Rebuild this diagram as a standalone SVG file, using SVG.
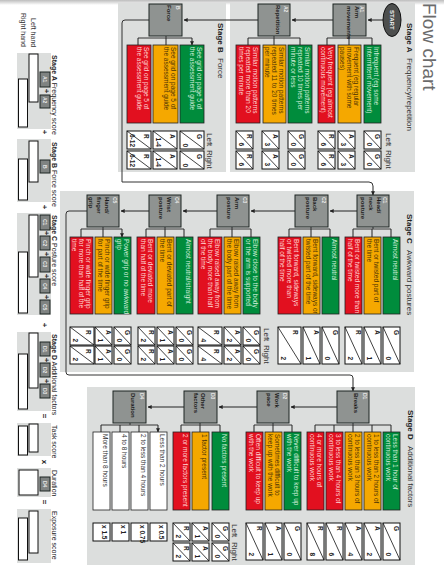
<svg xmlns="http://www.w3.org/2000/svg" width="444" height="565" viewBox="0 0 444 565">
<style>
text{font-family:"Liberation Sans",Arial,sans-serif}
.p{fill:#dcdedd}
.b{fill:#8f9391;stroke:#1d2423;stroke-width:1}
.sm{fill:#7f8382;stroke:#1d2423;stroke-width:1}
.R{fill:#e2101f;stroke:#222;stroke-width:.8}
.A{fill:#f5a800;stroke:#222;stroke-width:.8}
.G{fill:#008c3c;stroke:#222;stroke-width:.8}
.W{fill:#fff;stroke:#222;stroke-width:.8}
.o{fill:#fff;stroke:#111;stroke-width:1}
.d{stroke:#111;stroke-width:.8;fill:none}
.c{fill:none;stroke:#222;stroke-width:1;marker-end:url(#ah)}
.n{fill:none;stroke:#333;stroke-width:1}
.tr{font-size:6.5px;fill:#ffd6d6}
.ta{font-size:6.5px;fill:#4a3205}
.tg{font-size:6.5px;fill:#d5efdc}
.tw{font-size:6.5px;fill:#333}
.lb{font-size:6px;font-weight:bold;fill:#1c1c1c}
.id{font-size:5px;font-weight:bold;fill:#e8e8e8}
.sc{font-size:6.5px;font-weight:bold;fill:#222}
.end{text-anchor:end}
.st{font-size:8px;fill:#333}
.stb{font-size:8px;font-weight:bold;fill:#222}
.sb{font-size:7px;fill:#222}
.si{font-size:7px;fill:#333}
.big{font-size:19px;fill:#6b6b6b}
.op{font-size:8px;font-weight:bold;fill:#222;text-anchor:middle}
</style>
<defs>
<marker id="ah" viewBox="0 0 6 6" refX="5.5" refY="3" markerWidth="4" markerHeight="4" orient="auto"><path d="M0 0L6 3L0 6z" fill="#222"/></marker>
<linearGradient id="top" x1="0" y1="0" x2="0" y2="1"><stop offset="0" stop-color="#bdbdbd"/><stop offset="1" stop-color="#fff"/></linearGradient>
<g id="s17"><rect class="o" width="17" height="18"/><line class="d" x1="0" y1="0" x2="17" y2="18"/></g>
<g id="s24"><rect class="o" width="24" height="18"/><line class="d" x1="0" y1="0" x2="24" y2="18"/></g>
<g id="t17"><rect class="o" width="17" height="37"/><line class="d" x1="0" y1="0" x2="17" y2="37"/></g>
<g id="t23"><rect class="o" width="23" height="37"/><line class="d" x1="0" y1="0" x2="23" y2="37"/></g>
</defs>
<rect width="444" height="5" fill="url(#top)"/>
<rect class="p" x="230" y="3" width="185" height="169"/>
<rect class="p" x="118" y="3" width="108" height="169"/>
<rect class="p" x="60" y="191" width="354" height="181"/>
<rect class="p" x="87" y="387" width="328" height="178"/>
<text class="big" transform="translate(423,3) rotate(90)">Flow chart</text>

<g id="connectors">
<path class="c" d="M383 20H368"/>
<path class="c" d="M333 20H292"/>
<path class="c" d="M258 20H184"/>
<path class="n" d="M149 20H125Q122 20 122 23V182H369Q373 182 373 186"/>
<path class="c" d="M373 186V195"/>
<path class="c" d="M357 211H330"/>
<path class="c" d="M295 211H251"/>
<path class="c" d="M217 211H183"/>
<path class="c" d="M149 211H121"/>
<path class="n" d="M87 211H69Q66 211 66 214V372Q66 375 69 375H350Q353 375 353 378"/>
<path class="c" d="M353 378V391"/>
<path class="c" d="M337 407H291"/>
<path class="c" d="M257 407H219"/>
<path class="c" d="M184 407H148"/>
<path class="n" d="M327 38H372M349 36V38M248 38H300M274 36V38M138 38H192M166 36V38"/>
<path class="c" d="M327 38V45M349 38V45M372 38V45M248 38V45M274 38V45M300 38V45M138 38V45M166 38V45M192 38V45"/>
<path class="n" d="M353 229H391M373 227V229M289 229H330M311 227V229M210 229H251M232 227V229M146 229H184M165 227V229M81 229H122M103 229V227"/>
<path class="c" d="M353 229V237M372 229V237M391 229V237M289 229V237M311 229V237M330 229V237M210 229V237M232 229V237M251 229V237M146 229V237M165 229V237M184 229V237M81 229V237M103 229V237M122 229V237"/>
<path class="n" d="M315 425H391M353 423V425M254 425H292M273 423V425M181 425H220M200 423V425M101 425H158M130 423V425"/>
<path class="c" d="M315 425V432M334 425V432M353 425V432M372 425V432M391 425V432M254 425V432M273 425V432M292 425V432M181 425V432M200 425V432M220 425V432M101 425V432M120 425V432M139 425V432M158 425V432"/>
</g>

<g id="start"><ellipse cx="392" cy="20" rx="9" ry="16.5" fill="#4d4f4e" stroke="#111"/><text class="lb" style="fill:#f2f2f2" transform="translate(390,10) rotate(90)">START</text></g>

<g id="stage-a">
<text class="stb" transform="translate(407,23) rotate(90)">Stage A</text>
<text class="st" transform="translate(407,58) rotate(90)">Frequency/repetition</text>
<text class="st" transform="translate(386,133) rotate(90)">Left</text>
<text class="st" transform="translate(386,150) rotate(90)">Right</text>
</g>
<g id="node-a1">
<rect class="b" x="333" y="4" width="33" height="32"/>
<text class="id" transform="translate(360,6) rotate(90)">A1</text>
<text class="lb" transform="translate(355,6) rotate(90)"><tspan x="0" y="0">Arm</tspan><tspan x="0" dy="8">movements</tspan></text>
<rect class="G" x="364" y="45" width="17" height="78"/><text class="tg" transform="translate(374,47) rotate(90)"><tspan x="0" y="0">Infrequent (eg some</tspan><tspan x="0" dy="6.8">intermittent movement)</tspan></text>
<rect class="A" x="338" y="45" width="23" height="78"/><text class="ta" transform="translate(354,47) rotate(90)"><tspan x="0" y="0">Frequent (eg regular</tspan><tspan x="0" dy="6.8">movement with some</tspan><tspan x="0" dy="6.8">pauses)</tspan></text>
<rect class="R" x="318" y="45" width="17" height="78"/><text class="tr" transform="translate(328,47) rotate(90)"><tspan x="0" y="0">Very frequent (eg almost</tspan><tspan x="0" dy="6.8">continuous movement)</tspan></text>
<use href="#s17" x="364" y="131"/><use href="#s17" x="364" y="151"/><use href="#s17" x="338" y="131"/><use href="#s17" x="338" y="151"/><use href="#s17" x="318" y="131"/><use href="#s17" x="318" y="151"/>
<text class="sc" transform="translate(375,134) rotate(90)">G</text><text class="sc end" transform="translate(366.5,146) rotate(90)">0</text>
<text class="sc" transform="translate(375,154) rotate(90)">G</text><text class="sc end" transform="translate(366.5,166) rotate(90)">0</text>
<text class="sc" transform="translate(349,134) rotate(90)">A</text><text class="sc end" transform="translate(340.5,146) rotate(90)">3</text>
<text class="sc" transform="translate(349,154) rotate(90)">A</text><text class="sc end" transform="translate(340.5,166) rotate(90)">3</text>
<text class="sc" transform="translate(329,134) rotate(90)">R</text><text class="sc end" transform="translate(320.5,146) rotate(90)">6</text>
<text class="sc" transform="translate(329,154) rotate(90)">R</text><text class="sc end" transform="translate(320.5,166) rotate(90)">6</text>
</g>
<g id="node-a2">
<rect class="b" x="258" y="4" width="32" height="32"/>
<text class="id" transform="translate(284,6) rotate(90)">A2</text>
<text class="lb" transform="translate(276,5) rotate(90)">Repetition</text>
<rect class="G" x="288" y="45" width="24" height="78"/><text class="tg" transform="translate(305,47) rotate(90)"><tspan x="0" y="0">Similar motion patterns</tspan><tspan x="0" dy="6.8">repeated 10 times per</tspan><tspan x="0" dy="6.8">minute or less</tspan></text>
<rect class="A" x="263" y="45" width="23" height="78"/><text class="ta" transform="translate(279,47) rotate(90)"><tspan x="0" y="0">Similar motion patterns</tspan><tspan x="0" dy="6.8">repeated 11 to 20 times</tspan><tspan x="0" dy="6.8">per minute</tspan></text>
<rect class="R" x="236" y="45" width="24" height="78"/><text class="tr" transform="translate(253,47) rotate(90)"><tspan x="0" y="0">Similar motion patterns</tspan><tspan x="0" dy="6.8">repeated more than 20</tspan><tspan x="0" dy="6.8">times per minute</tspan></text>
<use href="#s17" x="288" y="131"/><use href="#s17" x="288" y="151"/><use href="#s17" x="262" y="131"/><use href="#s17" x="262" y="151"/><use href="#s17" x="236" y="131"/><use href="#s17" x="236" y="151"/>
<text class="sc" transform="translate(299,134) rotate(90)">G</text><text class="sc end" transform="translate(290.5,146) rotate(90)">0</text>
<text class="sc" transform="translate(299,154) rotate(90)">G</text><text class="sc end" transform="translate(290.5,166) rotate(90)">0</text>
<text class="sc" transform="translate(273,134) rotate(90)">A</text><text class="sc end" transform="translate(264.5,146) rotate(90)">3</text>
<text class="sc" transform="translate(273,154) rotate(90)">A</text><text class="sc end" transform="translate(264.5,166) rotate(90)">3</text>
<text class="sc" transform="translate(247,134) rotate(90)">R</text><text class="sc end" transform="translate(238.5,146) rotate(90)">6</text>
<text class="sc" transform="translate(247,154) rotate(90)">R</text><text class="sc end" transform="translate(238.5,166) rotate(90)">6</text>
</g>

<g id="node-b">
<text class="stb" transform="translate(218,23) rotate(90)">Stage B</text>
<text class="st" transform="translate(218,58) rotate(90)">Force</text>
<text class="st" transform="translate(207,133) rotate(90)">Left</text>
<text class="st" transform="translate(207,150) rotate(90)">Right</text>
<rect class="b" x="149" y="4" width="33" height="32"/>
<text class="id" transform="translate(176,6) rotate(90)">B</text>
<text class="lb" transform="translate(167,5) rotate(90)">Force</text>
<rect class="G" x="180" y="45" width="24" height="78"/><text class="tg" transform="translate(197,47) rotate(90)"><tspan x="0" y="0">See grid on page 5 of</tspan><tspan x="0" dy="6.8">the assessment guide</tspan></text>
<rect class="A" x="153" y="45" width="25" height="78"/><text class="ta" transform="translate(171,47) rotate(90)"><tspan x="0" y="0">See grid on page 5 of</tspan><tspan x="0" dy="6.8">the assessment guide</tspan></text>
<rect class="R" x="127" y="45" width="24" height="78"/><text class="tr" transform="translate(144,47) rotate(90)"><tspan x="0" y="0">See grid on page 5 of</tspan><tspan x="0" dy="6.8">the assessment guide</tspan></text>
<use href="#s24" x="180" y="131"/><use href="#s24" x="180" y="151"/><use href="#s24" x="153" y="131"/><use href="#s24" x="153" y="151"/><use href="#s24" x="127" y="131"/><use href="#s24" x="127" y="151"/>
<text class="sc" transform="translate(197,134) rotate(90)">G</text><text class="sc end" transform="translate(183,147) rotate(90)">0</text>
<text class="sc" transform="translate(197,154) rotate(90)">G</text><text class="sc end" transform="translate(183,167) rotate(90)">0</text>
<text class="sc" transform="translate(170,134) rotate(90)">A</text><text class="sc end" transform="translate(156,147) rotate(90)">1-4</text>
<text class="sc" transform="translate(170,154) rotate(90)">A</text><text class="sc end" transform="translate(156,167) rotate(90)">1-4</text>
<text class="sc" transform="translate(144,134) rotate(90)">R</text><text class="sc end" transform="translate(130,147) rotate(90)">6-12</text>
<text class="sc" transform="translate(144,154) rotate(90)">R</text><text class="sc end" transform="translate(130,167) rotate(90)">6-12</text>
</g>

<g id="stage-c">
<text class="stb" transform="translate(407,214) rotate(90)">Stage C</text>
<text class="st" transform="translate(407,250) rotate(90)">Awkward postures</text>
<text class="st" transform="translate(264,328) rotate(90)">Left</text>
<text class="st" transform="translate(264,345) rotate(90)">Right</text>
</g>
<g id="node-c1">
<rect class="b" x="357" y="195" width="32" height="32"/>
<text class="id" transform="translate(383,197) rotate(90)">C1</text>
<text class="lb" transform="translate(377,197) rotate(90)"><tspan x="0" y="0">Head/</tspan><tspan x="0" dy="8">neck</tspan><tspan x="0" dy="8">posture</tspan></text>
<rect class="G" x="383" y="237" width="17" height="77"/><text class="tg" transform="translate(393,239) rotate(90)">Almost neutral</text>
<rect class="A" x="364" y="237" width="17" height="77"/><text class="ta" transform="translate(374,239) rotate(90)"><tspan x="0" y="0">Bent or twisted part of</tspan><tspan x="0" dy="6.8">the time</tspan></text>
<rect class="R" x="345" y="237" width="17" height="77"/><text class="tr" transform="translate(355,239) rotate(90)"><tspan x="0" y="0">Bent or twisted more than</tspan><tspan x="0" dy="6.8">half of the time</tspan></text>
<use href="#t17" x="383" y="327"/><use href="#t17" x="364" y="327"/><use href="#t17" x="345" y="327"/>
<text class="sc" transform="translate(394,330) rotate(90)">G</text><text class="sc end" transform="translate(385.5,360) rotate(90)">0</text>
<text class="sc" transform="translate(375,330) rotate(90)">A</text><text class="sc end" transform="translate(366.5,360) rotate(90)">1</text>
<text class="sc" transform="translate(356,330) rotate(90)">R</text><text class="sc end" transform="translate(347.5,360) rotate(90)">2</text>
</g>
<g id="node-c2">
<rect class="b" x="295" y="195" width="33" height="32"/>
<text class="id" transform="translate(322,197) rotate(90)">C2</text>
<text class="lb" transform="translate(313,197) rotate(90)"><tspan x="0" y="0">Back</tspan><tspan x="0" dy="7.5">posture</tspan></text>
<rect class="G" x="322" y="237" width="17" height="77"/><text class="tg" transform="translate(332,239) rotate(90)">Almost neutral</text>
<rect class="A" x="303" y="237" width="17" height="77"/><text class="ta" transform="translate(313,239) rotate(90)"><tspan x="0" y="0">Bent forward, sideways or</tspan><tspan x="0" dy="6.8">twisted part of the time</tspan></text>
<rect class="R" x="278" y="237" width="23" height="77"/><text class="tr" transform="translate(294,239) rotate(90)"><tspan x="0" y="0">Bent forward, sideways</tspan><tspan x="0" dy="6.8">or twisted more than</tspan><tspan x="0" dy="6.8">half of the time</tspan></text>
<use href="#t17" x="322" y="327"/><use href="#t17" x="303" y="327"/><use href="#t23" x="278" y="327"/>
<text class="sc" transform="translate(333,330) rotate(90)">G</text><text class="sc end" transform="translate(324.5,360) rotate(90)">0</text>
<text class="sc" transform="translate(314,330) rotate(90)">A</text><text class="sc end" transform="translate(305.5,360) rotate(90)">1</text>
<text class="sc" transform="translate(293,330) rotate(90)">R</text><text class="sc end" transform="translate(281,360) rotate(90)">2</text>
</g>
<g id="node-c3">
<rect class="b" x="217" y="195" width="32" height="32"/>
<text class="id" transform="translate(243,197) rotate(90)">C3</text>
<text class="lb" transform="translate(235,197) rotate(90)"><tspan x="0" y="0">Arm</tspan><tspan x="0" dy="8">posture</tspan></text>
<rect class="G" x="243" y="237" width="17" height="77"/><text class="tg" transform="translate(253,239) rotate(90)"><tspan x="0" y="0">Elbow close to the body</tspan><tspan x="0" dy="6.8">or the arm is supported</tspan></text>
<rect class="A" x="224" y="237" width="17" height="77"/><text class="ta" transform="translate(234,239) rotate(90)"><tspan x="0" y="0">Elbow raised away from</tspan><tspan x="0" dy="6.8">the body part of the time</tspan></text>
<rect class="R" x="198" y="237" width="24" height="77"/><text class="tr" transform="translate(215,239) rotate(90)"><tspan x="0" y="0">Elbow raised away from</tspan><tspan x="0" dy="6.8">the body more than half</tspan><tspan x="0" dy="6.8">of the time</tspan></text>
<use href="#s17" x="243" y="327"/><use href="#s17" x="243" y="346"/><use href="#s17" x="224" y="327"/><use href="#s17" x="224" y="346"/><use href="#s24" x="198" y="327"/><use href="#s24" x="198" y="346"/>
<text class="sc" transform="translate(254,330) rotate(90)">G</text><text class="sc end" transform="translate(245.5,342) rotate(90)">0</text>
<text class="sc" transform="translate(254,349) rotate(90)">G</text><text class="sc end" transform="translate(245.5,361) rotate(90)">0</text>
<text class="sc" transform="translate(235,330) rotate(90)">A</text><text class="sc end" transform="translate(226.5,342) rotate(90)">2</text>
<text class="sc" transform="translate(235,349) rotate(90)">A</text><text class="sc end" transform="translate(226.5,361) rotate(90)">2</text>
<text class="sc" transform="translate(214,330) rotate(90)">R</text><text class="sc end" transform="translate(201,342) rotate(90)">4</text>
<text class="sc" transform="translate(214,349) rotate(90)">R</text><text class="sc end" transform="translate(201,361) rotate(90)">4</text>
</g>
<g id="node-c4">
<rect class="b" x="149" y="195" width="32" height="32"/>
<text class="id" transform="translate(175,197) rotate(90)">C4</text>
<text class="lb" transform="translate(167,197) rotate(90)"><tspan x="0" y="0">Wrist</tspan><tspan x="0" dy="8">posture</tspan></text>
<rect class="G" x="176" y="237" width="17" height="77"/><text class="tg" transform="translate(186,239) rotate(90)">Almost neutral/straight</text>
<rect class="A" x="157" y="237" width="17" height="77"/><text class="ta" transform="translate(167,239) rotate(90)"><tspan x="0" y="0">Bent or deviated part of</tspan><tspan x="0" dy="6.8">the time</tspan></text>
<rect class="R" x="137" y="237" width="18" height="77"/><text class="tr" transform="translate(148,239) rotate(90)"><tspan x="0" y="0">Bent or deviated more</tspan><tspan x="0" dy="6.8">than half of the time</tspan></text>
<use href="#s17" x="176" y="327"/><use href="#s17" x="176" y="346"/><use href="#s17" x="157" y="327"/><use href="#s17" x="157" y="346"/><use href="#s17" x="138" y="327"/><use href="#s17" x="138" y="346"/>
<text class="sc" transform="translate(187,330) rotate(90)">G</text><text class="sc end" transform="translate(178.5,342) rotate(90)">0</text>
<text class="sc" transform="translate(187,349) rotate(90)">G</text><text class="sc end" transform="translate(178.5,361) rotate(90)">0</text>
<text class="sc" transform="translate(168,330) rotate(90)">A</text><text class="sc end" transform="translate(159.5,342) rotate(90)">1</text>
<text class="sc" transform="translate(168,349) rotate(90)">A</text><text class="sc end" transform="translate(159.5,361) rotate(90)">1</text>
<text class="sc" transform="translate(149,330) rotate(90)">R</text><text class="sc end" transform="translate(140.5,342) rotate(90)">2</text>
<text class="sc" transform="translate(149,349) rotate(90)">R</text><text class="sc end" transform="translate(140.5,361) rotate(90)">2</text>
</g>
<g id="node-c5">
<rect class="b" x="87" y="195" width="32" height="32"/>
<text class="id" transform="translate(113,197) rotate(90)">C5</text>
<text class="lb" transform="translate(105,197) rotate(90)"><tspan x="0" y="0">Hand/</tspan><tspan x="0" dy="8">finger</tspan><tspan x="0" dy="8">grip</tspan></text>
<rect class="G" x="114" y="237" width="17" height="77"/><text class="tg" transform="translate(124,239) rotate(90)"><tspan x="0" y="0">Power grip or no awkward</tspan><tspan x="0" dy="6.8">grip</tspan></text>
<rect class="A" x="95" y="237" width="17" height="77"/><text class="ta" transform="translate(105,239) rotate(90)"><tspan x="0" y="0">Pinch or wide finger grip</tspan><tspan x="0" dy="6.8">for part of the time</tspan></text>
<rect class="R" x="70" y="237" width="23" height="77"/><text class="tr" transform="translate(86,239) rotate(90)"><tspan x="0" y="0">Pinch or wide finger grip</tspan><tspan x="0" dy="6.8">for more than half of the</tspan><tspan x="0" dy="6.8">time</tspan></text>
<use href="#s17" x="114" y="327"/><use href="#s17" x="114" y="346"/><use href="#s17" x="95" y="327"/><use href="#s17" x="95" y="346"/><use href="#s24" x="70" y="327"/><use href="#s24" x="70" y="346"/>
<text class="sc" transform="translate(125,330) rotate(90)">G</text><text class="sc end" transform="translate(116.5,342) rotate(90)">0</text>
<text class="sc" transform="translate(125,349) rotate(90)">G</text><text class="sc end" transform="translate(116.5,361) rotate(90)">0</text>
<text class="sc" transform="translate(106,330) rotate(90)">A</text><text class="sc end" transform="translate(97.5,342) rotate(90)">1</text>
<text class="sc" transform="translate(106,349) rotate(90)">A</text><text class="sc end" transform="translate(97.5,361) rotate(90)">1</text>
<text class="sc" transform="translate(86,330) rotate(90)">R</text><text class="sc end" transform="translate(73,342) rotate(90)">2</text>
<text class="sc" transform="translate(86,349) rotate(90)">R</text><text class="sc end" transform="translate(73,361) rotate(90)">2</text>
</g>

<g id="stage-d">
<text class="stb" transform="translate(408,410) rotate(90)">Stage D</text>
<text class="st" transform="translate(408,446) rotate(90)">Additional factors</text>
<text class="st" transform="translate(232,524) rotate(90)">Left</text>
<text class="st" transform="translate(232,542) rotate(90)">Right</text>
</g>
<g id="node-d1">
<rect class="b" x="337" y="391" width="32" height="32"/>
<text class="id" transform="translate(363,393) rotate(90)">D1</text>
<text class="lb" transform="translate(354,393) rotate(90)">Breaks</text>
<rect class="G" x="383" y="432" width="17" height="78"/><text class="tg" transform="translate(393,434) rotate(90)"><tspan x="0" y="0">Less than 1 hour of</tspan><tspan x="0" dy="6.8">continuous work</tspan></text>
<rect class="A" x="364" y="432" width="17" height="78"/><text class="ta" transform="translate(374,434) rotate(90)"><tspan x="0" y="0">1 to less than 2 hours of</tspan><tspan x="0" dy="6.8">continuous work</tspan></text>
<rect class="A" x="345" y="432" width="17" height="78"/><text class="ta" transform="translate(355,434) rotate(90)"><tspan x="0" y="0">2 to less than 3 hours of</tspan><tspan x="0" dy="6.8">continuous work</tspan></text>
<rect class="R" x="326" y="432" width="17" height="78"/><text class="tr" transform="translate(336,434) rotate(90)"><tspan x="0" y="0">3 to less than 4 hours of</tspan><tspan x="0" dy="6.8">continuous work</tspan></text>
<rect class="R" x="307" y="432" width="17" height="78"/><text class="tr" transform="translate(317,434) rotate(90)"><tspan x="0" y="0">4 or more hours of</tspan><tspan x="0" dy="6.8">continuous work</tspan></text>
<use href="#t17" x="383" y="523"/><use href="#t17" x="364" y="523"/><use href="#t17" x="345" y="523"/><use href="#t17" x="326" y="523"/><use href="#t17" x="307" y="523"/>
<text class="sc" transform="translate(394,526) rotate(90)">G</text><text class="sc end" transform="translate(385.5,556) rotate(90)">0</text>
<text class="sc" transform="translate(375,526) rotate(90)">A</text><text class="sc end" transform="translate(366.5,556) rotate(90)">2</text>
<text class="sc" transform="translate(356,526) rotate(90)">A</text><text class="sc end" transform="translate(347.5,556) rotate(90)">4</text>
<text class="sc" transform="translate(337,526) rotate(90)">R</text><text class="sc end" transform="translate(328.5,556) rotate(90)">6</text>
<text class="sc" transform="translate(318,526) rotate(90)">R</text><text class="sc end" transform="translate(309.5,556) rotate(90)">8</text>
</g>
<g id="node-d2">
<rect class="b" x="257" y="391" width="32" height="32"/>
<text class="id" transform="translate(283,393) rotate(90)">D2</text>
<text class="lb" transform="translate(275,393) rotate(90)"><tspan x="0" y="0">Work</tspan><tspan x="0" dy="8">pace</tspan></text>
<rect class="G" x="284" y="432" width="17" height="78"/><text class="tg" transform="translate(294,434) rotate(90)"><tspan x="0" y="0">Never difficult to keep up</tspan><tspan x="0" dy="6.8">with the work</tspan></text>
<rect class="A" x="265" y="432" width="17" height="78"/><text class="ta" transform="translate(275,434) rotate(90)"><tspan x="0" y="0">Sometimes difficult to</tspan><tspan x="0" dy="6.8">keep up with the work</tspan></text>
<rect class="R" x="246" y="432" width="17" height="78"/><text class="tr" transform="translate(256,434) rotate(90)"><tspan x="0" y="0">Often difficult to keep up</tspan><tspan x="0" dy="6.8">with the work</tspan></text>
<use href="#t17" x="284" y="523"/><use href="#t17" x="265" y="523"/><use href="#t17" x="246" y="523"/>
<text class="sc" transform="translate(295,526) rotate(90)">G</text><text class="sc end" transform="translate(286.5,556) rotate(90)">0</text>
<text class="sc" transform="translate(276,526) rotate(90)">A</text><text class="sc end" transform="translate(267.5,556) rotate(90)">1</text>
<text class="sc" transform="translate(257,526) rotate(90)">R</text><text class="sc end" transform="translate(248.5,556) rotate(90)">2</text>
</g>
<g id="node-d3">
<rect class="b" x="184" y="391" width="33" height="32"/>
<text class="id" transform="translate(211,393) rotate(90)">D3</text>
<text class="lb" transform="translate(201,393) rotate(90)"><tspan x="0" y="0">Other</tspan><tspan x="0" dy="7">factors</tspan></text>
<rect class="G" x="212" y="432" width="17" height="78"/><text class="tg" transform="translate(222,434) rotate(90)">No factors present</text>
<rect class="A" x="192" y="432" width="17" height="78"/><text class="ta" transform="translate(202,434) rotate(90)">1 factor present</text>
<rect class="R" x="173" y="432" width="17" height="78"/><text class="tr" transform="translate(183,434) rotate(90)">2 or more factors present</text>
<use href="#s17" x="212" y="523"/><use href="#s17" x="212" y="543"/><use href="#s17" x="192" y="523"/><use href="#s17" x="192" y="543"/><use href="#s17" x="173" y="523"/><use href="#s17" x="173" y="543"/>
<text class="sc" transform="translate(223,526) rotate(90)">G</text><text class="sc end" transform="translate(214.5,538) rotate(90)">0</text>
<text class="sc" transform="translate(223,546) rotate(90)">G</text><text class="sc end" transform="translate(214.5,558) rotate(90)">0</text>
<text class="sc" transform="translate(203,526) rotate(90)">A</text><text class="sc end" transform="translate(194.5,538) rotate(90)">1</text>
<text class="sc" transform="translate(203,546) rotate(90)">A</text><text class="sc end" transform="translate(194.5,558) rotate(90)">1</text>
<text class="sc" transform="translate(184,526) rotate(90)">R</text><text class="sc end" transform="translate(175.5,538) rotate(90)">2</text>
<text class="sc" transform="translate(184,546) rotate(90)">R</text><text class="sc end" transform="translate(175.5,558) rotate(90)">2</text>
</g>
<g id="node-d4">
<rect class="b" x="113" y="391" width="33" height="32"/>
<text class="id" transform="translate(140,393) rotate(90)">D4</text>
<text class="lb" transform="translate(131,393) rotate(90)">Duration</text>
<rect class="W" x="150" y="432" width="17" height="78"/><text class="tw" transform="translate(160,434) rotate(90)">Less than 2 hours</text>
<rect class="W" x="131" y="432" width="17" height="78"/><text class="tw" transform="translate(141,434) rotate(90)">2 to less than 4 hours</text>
<rect class="W" x="112" y="432" width="17" height="78"/><text class="tw" transform="translate(122,434) rotate(90)">4 to 8 hours</text>
<rect class="W" x="93" y="432" width="17" height="78"/><text class="tw" transform="translate(103,434) rotate(90)">More than 8 hours</text>
<rect class="o" x="150" y="523" width="17" height="18"/><rect class="o" x="131" y="523" width="17" height="18"/><rect class="o" x="112" y="523" width="17" height="18"/><rect class="o" x="93" y="523" width="17" height="18"/>
<text class="sc" transform="translate(159,525) rotate(90)">x 0.5</text>
<text class="sc" transform="translate(140,525) rotate(90)">x 0.75</text>
<text class="sc" transform="translate(121,525) rotate(90)">x 1</text>
<text class="sc" transform="translate(102,525) rotate(90)">x 1.5</text>
</g>

<g id="score-sheet">
<text class="si" transform="translate(31,18) rotate(90)">Left hand</text>
<text class="si" transform="translate(21,13) rotate(90)">Right hand</text>
<g id="score-a">
<rect class="p" x="17" y="53" width="34" height="76"/>
<rect class="o" x="29" y="54" width="9" height="48"/><rect class="o" x="18.500" y="79" width="9" height="48"/>
<rect class="sm" x="40" y="72" width="10" height="15"/><text class="id" transform="translate(43,76) rotate(90)">A1</text>
<text class="op" transform="translate(44,91) rotate(90)">+</text>
<rect class="sm" x="40" y="95" width="10" height="13"/><text class="id" transform="translate(43,97) rotate(90)">A2</text>
<text class="sb" transform="translate(51.500,55) rotate(90)"><tspan font-weight="bold">Stage A</tspan> Frequency score</text>
</g>
<text class="op" transform="translate(42,132) rotate(90)">+</text>
<g id="score-b">
<rect class="p" x="17" y="139" width="34" height="63"/>
<rect class="o" x="29" y="141" width="9" height="41"/><rect class="o" x="18.500" y="159" width="9" height="41"/>
<rect class="sm" x="40" y="160" width="10" height="13"/><text class="id" transform="translate(43,165) rotate(90)">B</text>
<text class="sb" transform="translate(51.500,142) rotate(90)"><tspan font-weight="bold">Stage B</tspan> Force score</text>
</g>
<text class="op" transform="translate(42,207) rotate(90)">+</text>
<g id="score-c">
<rect class="p" x="17" y="213" width="34" height="102"/>
<rect class="o" x="29" y="215" width="9" height="62"/><rect class="o" x="18.500" y="252" width="9" height="61"/>
<rect class="sm" x="40" y="215" width="10" height="15"/><text class="id" transform="translate(43,219) rotate(90)">C1</text>
<text class="op" transform="translate(44,233) rotate(90)">+</text>
<rect class="sm" x="40" y="236" width="10" height="14"/><text class="id" transform="translate(43,240) rotate(90)">C2</text>
<text class="op" transform="translate(44,254) rotate(90)">+</text>
<rect class="sm" x="40" y="257" width="10" height="15"/><text class="id" transform="translate(43,261) rotate(90)">C3</text>
<text class="op" transform="translate(44,276) rotate(90)">+</text>
<rect class="sm" x="40" y="279" width="10" height="14"/><text class="id" transform="translate(43,283) rotate(90)">C4</text>
<text class="op" transform="translate(44,297) rotate(90)">+</text>
<rect class="sm" x="40" y="300" width="10" height="14"/><text class="id" transform="translate(43,304) rotate(90)">C5</text>
<text class="sb" transform="translate(51.500,215) rotate(90)"><tspan font-weight="bold">Stage C</tspan> Posture score</text>
</g>
<text class="op" transform="translate(42,325) rotate(90)">+</text>
<g id="score-d">
<rect class="p" x="17" y="332" width="34" height="79"/>
<rect class="o" x="29" y="333" width="9" height="55"/><rect class="o" x="18.500" y="354" width="9" height="55"/>
<rect class="sm" x="40" y="342" width="10" height="14"/><text class="id" transform="translate(43,346) rotate(90)">D1</text>
<text class="op" transform="translate(44,360) rotate(90)">+</text>
<rect class="sm" x="40" y="363" width="10" height="14"/><text class="id" transform="translate(43,367) rotate(90)">D2</text>
<text class="op" transform="translate(44,381) rotate(90)">+</text>
<rect class="sm" x="40" y="384" width="10" height="14"/><text class="id" transform="translate(43,388) rotate(90)">D3</text>
<text class="sb" transform="translate(51.500,334) rotate(90)"><tspan font-weight="bold">Stage D</tspan> Additional factors</text>
</g>
<text class="op" transform="translate(42,416) rotate(90)">=</text>
<g id="score-task">
<rect class="p" x="17" y="423" width="34" height="33"/>
<rect class="o" x="29" y="424" width="9" height="28"/><rect class="o" x="18.500" y="426" width="9" height="29"/>
<text class="sb" transform="translate(51.500,425) rotate(90)">Task score</text>
</g>
<text class="op" transform="translate(42,462) rotate(90)">x</text>
<g id="score-duration">
<rect class="p" x="17" y="468" width="34" height="29"/>
<rect class="o" x="19" y="470" width="19" height="25"/>
<rect class="sm" x="40" y="477" width="10" height="14"/><text class="id" transform="translate(43,481) rotate(90)">D4</text>
<text class="sb" transform="translate(51.500,470) rotate(90)">Duration</text>
</g>
<text class="op" transform="translate(42,502) rotate(90)">=</text>
<g id="score-exposure">
<rect class="p" x="17" y="509" width="34" height="54"/>
<rect class="o" x="29" y="511" width="9" height="42"/><rect class="o" x="18.500" y="518" width="9" height="42"/>
<text class="sb" transform="translate(51.500,511) rotate(90)">Exposure score</text>
</g>
</g>
</svg>
